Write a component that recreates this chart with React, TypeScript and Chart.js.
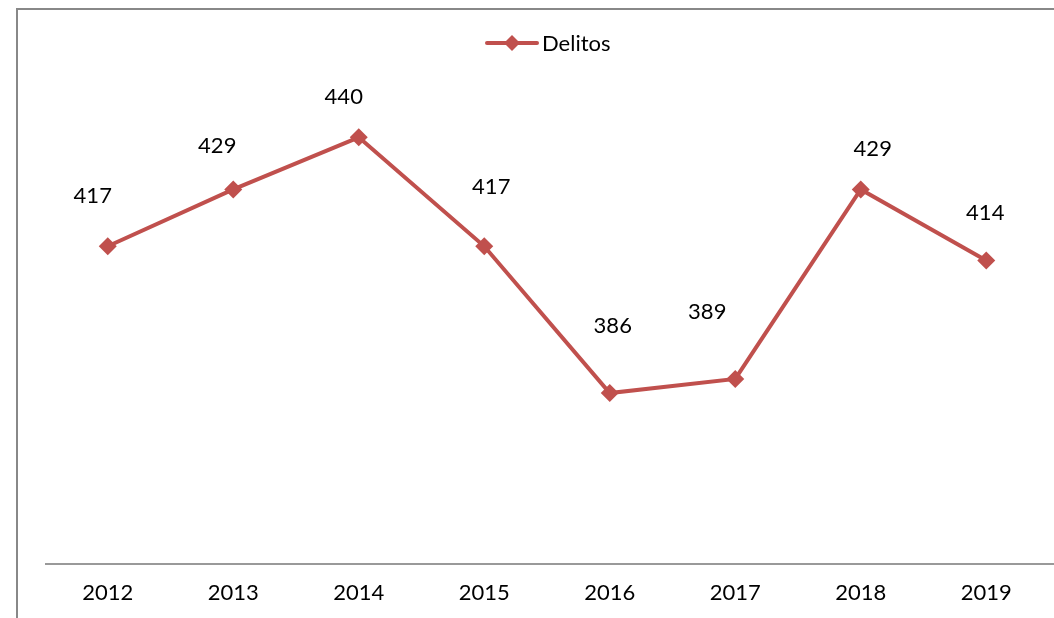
import React, { useEffect, useRef } from "react";
import { Chart, registerables } from "chart.js";

Chart.register(...registerables);

const categories = ["2012", "2013", "2014", "2015", "2016", "2017", "2018", "2019"];
const delitos = [417, 429, 440, 417, 386, 389, 429, 414];
const seriesName = "Delitos";
// manual label nudges (dx, dy) relative to each point, as in the original
const labelNudgeX = [-15, -16, -15, 7, 3, -28, 12, -1];
const labelNudgeY = [-50, -44, -40, -59, -67, -67, -41, -48];

const RED = "#C0504D";
const FONT = "Lato, 'Noto Sans', sans-serif";

const framePlugin = {
  id: "frame",
  beforeDraw(chart: any) {
    const ctx = chart.ctx;
    ctx.save();
    ctx.fillStyle = "#ffffff";
    ctx.fillRect(0, 0, chart.width, chart.height);
    ctx.strokeStyle = "#888888";
    ctx.lineWidth = 2;
    ctx.beginPath();
    ctx.moveTo(17, chart.height + 5);
    ctx.lineTo(17, 9);
    ctx.lineTo(chart.width + 5, 9);
    ctx.stroke();
    // category axis line, running to the right edge
    const y = Math.round(chart.chartArea.bottom);
    ctx.strokeStyle = "#999999";
    ctx.beginPath();
    ctx.moveTo(chart.chartArea.left, y);
    ctx.lineTo(chart.width, y);
    ctx.stroke();
    ctx.restore();
  },
};

const legendPlugin = {
  id: "customLegend",
  afterDraw(chart: any) {
    const ctx = chart.ctx;
    ctx.save();
    const y = 43;
    ctx.strokeStyle = RED;
    ctx.lineWidth = 4;
    ctx.lineCap = "round";
    ctx.beginPath();
    ctx.moveTo(487, y);
    ctx.lineTo(537, y);
    ctx.stroke();
    ctx.fillStyle = RED;
    ctx.beginPath();
    const cx = 512, r = 8;
    ctx.moveTo(cx - r, y);
    ctx.lineTo(cx, y - r);
    ctx.lineTo(cx + r, y);
    ctx.lineTo(cx, y + r);
    ctx.closePath();
    ctx.fill();
    ctx.fillStyle = "#000000";
    ctx.font = `22px ${FONT}`;
    ctx.textBaseline = "middle";
    ctx.textAlign = "left";
    ctx.fillText(seriesName, 542, y + 1);
    ctx.restore();
  },
};

const labelPlugin = {
  id: "pointLabels",
  afterDatasetsDraw(chart: any) {
    const ctx = chart.ctx;
    const meta = chart.getDatasetMeta(0);
    ctx.save();
    ctx.fillStyle = "#000000";
    ctx.font = `22px ${FONT}`;
    ctx.textAlign = "center";
    ctx.textBaseline = "middle";
    meta.data.forEach((pt: any, i: number) => {
      ctx.fillText(String(delitos[i]), pt.x + labelNudgeX[i], pt.y + labelNudgeY[i]);
    });
    ctx.restore();
  },
};

export default function App() {
  const ref = useRef<HTMLCanvasElement>(null);
  useEffect(() => {
    if (!ref.current) return;
    const chart = new Chart(ref.current, {
      type: "line",
      data: {
        labels: categories,
        datasets: [
          {
            label: seriesName,
            data: delitos,
            borderColor: RED,
            backgroundColor: RED,
            borderWidth: 4,
            pointStyle: "rectRot",
            pointRadius: 9,
            pointBorderWidth: 0,
            pointBackgroundColor: RED,
            tension: 0,
            clip: false,
          },
        ],
      },
      options: {
        responsive: false,
        animation: false,
        devicePixelRatio: 1,
        layout: { autoPadding: false, padding: { left: 45, right: 5, top: 90, bottom: 4 } },
        plugins: {
          legend: { display: false },
          tooltip: { enabled: false },
        },
        scales: {
          x: {
            offset: true,
            grid: { display: false },
            border: { display: false },
            ticks: { color: "#000000", font: { family: FONT, size: 22 }, padding: 8 },
          },
          y: {
            display: false,
            min: 350,
            max: 450,
          },
        },
      },
      plugins: [framePlugin, legendPlugin, labelPlugin],
    });
    return () => chart.destroy();
  }, []);
  return (
    <div style={{ position: "absolute", left: 0, top: 0, width: 1054, height: 618 }}>
      <canvas ref={ref} width={1054} height={618} style={{ display: "block" }} />
    </div>
  );
}
